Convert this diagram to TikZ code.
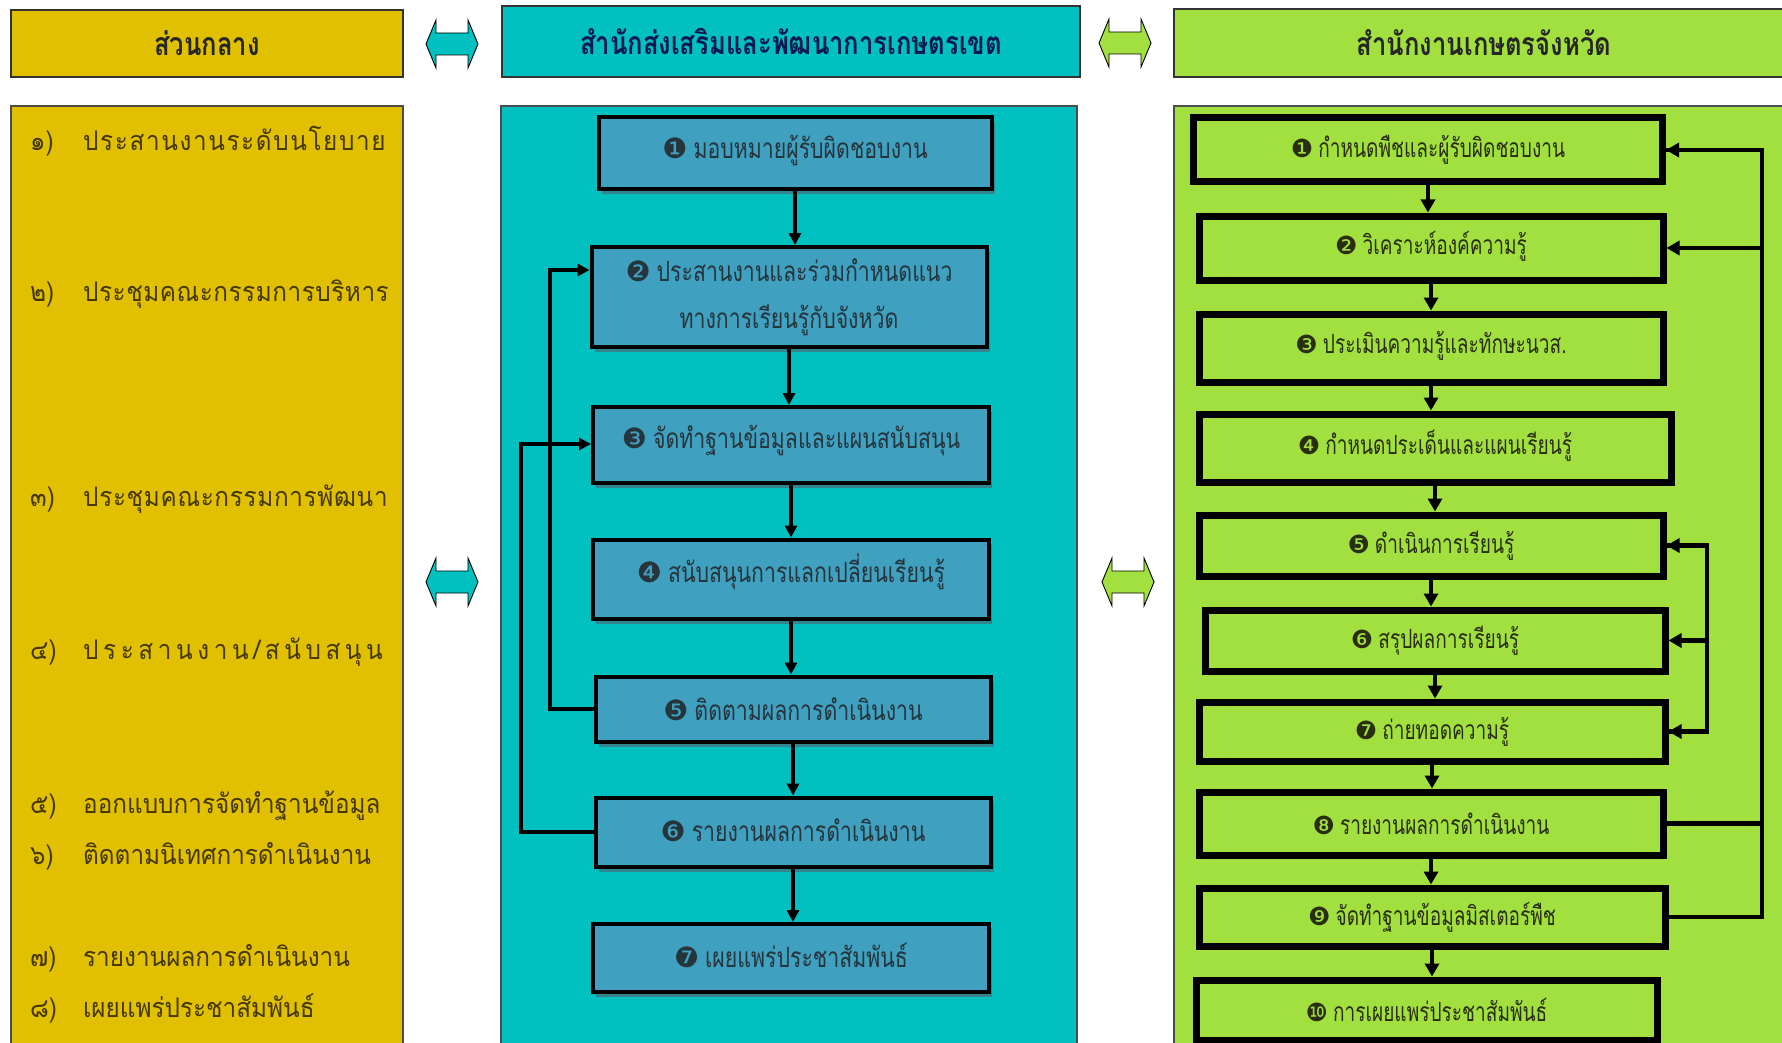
\documentclass[tikz,border=0pt]{standalone}
\usepackage{fontspec}
\setmainfont{Liberation Sans}
\newfontfamily\thaic[Script=Thai,FakeStretch=0.8]{Loma}
\newfontfamily\thaim[Script=Thai,FakeStretch=0.76]{Loma}
\newfontfamily\thair[Script=Thai,FakeStretch=0.72]{Loma}
\newfontfamily\thail[Script=Thai,FakeStretch=0.9]{Loma}
\newfontfamily\dingf{DejaVu Sans}
\usetikzlibrary{arrows.meta,shadows}
\definecolor{gold}{HTML}{E0C000}
\definecolor{cyanp}{HTML}{00C0C0}
\definecolor{boxblue}{HTML}{3FA0BF}
\definecolor{grn}{HTML}{A2E040}
\definecolor{shadowc}{HTML}{3A7F88}
\definecolor{txtgold}{HTML}{463800}
\definecolor{txtblue}{HTML}{26343C}
\definecolor{txtgrn}{HTML}{2A2E10}
\definecolor{navy}{HTML}{0A1A50}
\newcommand{\dg}[1]{{\dingf\fontsize{28}{28}\selectfont\char"#1}\hspace{6pt}}
\newcommand{\dgr}[1]{{\dingf\fontsize{25}{25}\selectfont\char"#1}\hspace{5pt}}
\newcommand{\lsp}[1]{\addfontfeatures{LetterSpace=#1}}
\newcommand{\up}[2]{\raisebox{#1}[\height][\depth]{#2}}
\tikzset{
  hdr/.style={draw=black!80, line width=1.2pt, inner sep=0pt, font=\thaic\bfseries\fontsize{32}{34}\selectfont},
  panel/.style={draw=black!70, line width=1.2pt},
  mbox/.style={draw=black, line width=4pt, fill=boxblue, inner sep=0pt, text=txtblue, align=center,
     font=\thaim\fontsize{28}{47}\selectfont,
     drop shadow={shadow xshift=3pt, shadow yshift=-5pt, fill=shadowc, opacity=0.9}},
  gbox/.style={draw=black, line width=7pt, fill=grn, inner sep=0pt, text=txtgrn, font=\thair\fontsize{26.5}{28}\selectfont},
  ltxt/.style={anchor=west, inner sep=0pt, text=txtgold, font=\thail\fontsize{27}{30}\selectfont},
  flow/.style={-{Triangle[length=12pt,width=12pt]}, line width=3.2pt},
  gflow/.style={-{Triangle[length=13pt,width=14pt]}, line width=3.5pt},
  fb/.style={line width=4.5pt},
  dblarr/.pic={\draw[pic actions, line width=0.9pt, line join=miter]
     (-26,0) -- (-16,-24) -- (-16,-11) -- (16,-11) -- (16,-24) -- (26,0) -- (16,24) -- (16,11)
     -- (-16,11) -- (-16,24) -- cycle;}
}
\begin{document}
\begin{tikzpicture}[x=1pt,y=-1pt]
\useasboundingbox (0,0) rectangle (1782,1043);
\clip (0,0) rectangle (1782,1043);
\fill[white] (0,0) rectangle (1782,1043);
% headers
\node[hdr, fill=gold, minimum width=392, minimum height=67, text=black!85] (h1) at (207,43.5) {ส่วนกลาง};
\node[hdr, fill=cyanp, minimum width=578, minimum height=71, text=navy] (h2) at (791,41.5) {สำนักส่งเสริมและพัฒนาการเกษตรเขต};
\node[hdr, fill=grn, minimum width=620, minimum height=68, text=black!85] (h3) at (1484,43) {สำนักงานเกษตรจังหวัด};
\pic[fill=cyanp] at (452,44) {dblarr};
\pic[fill=grn] at (1125,43) {dblarr};
% panels
\path[panel, fill=gold] (11,106) rectangle (403,1060);
\path[panel, fill=cyanp] (501,106) rectangle (1077,1060);
\path[panel, fill=grn] (1174,106) rectangle (1800,1060);
\pic[fill=cyanp] at (452,582) {dblarr};
\pic[fill=grn] at (1128,582) {dblarr};
% left list
\node[ltxt] (l1) at (30,141) {\makebox[53pt][l]{๑)}\lsp{6}ประสานงานระดับนโยบาย};
\node[ltxt] (l2) at (30,294) {\makebox[53pt][l]{๒)}\lsp{2}ประชุมคณะกรรมการบริหาร};
\node[ltxt] (l3) at (30,499) {\makebox[53pt][l]{๓)}\lsp{2.5}ประชุมคณะกรรมการพัฒนา};
\node[ltxt] (l4) at (30,652) {\makebox[53pt][l]{๔)}\lsp{17}ประสานงาน/สนับสนุน};
\node[ltxt] (l5) at (30,806) {\makebox[53pt][l]{๕)}ออกแบบการจัดทำฐานข้อมูล};
\node[ltxt] (l6) at (30,856) {\makebox[53pt][l]{๖)}ติดตามนิเทศการดำเนินงาน};
\node[ltxt] (l7) at (30,958) {\makebox[53pt][l]{๗)}รายงานผลการดำเนินงาน};
\node[ltxt] (l8) at (30,1008) {\makebox[53pt][l]{๘)}เผยแพร่ประชาสัมพันธ์};
% middle boxes
\node[mbox, minimum width=393, minimum height=72] (m1) at (795,153) {\up{3pt}{\dg{2776}มอบหมายผู้รับผิดชอบงาน}};
\node[mbox, minimum width=395, minimum height=100] (m2) at (789,297) {\dg{2777}ประสานงานและร่วมกำหนดแนว\\ทางการเรียนรู้กับจังหวัด};
\node[mbox, minimum width=396, minimum height=76] (m3) at (791,445) {\up{5pt}{\dg{2778}จัดทำฐานข้อมูลและแผนสนับสนุน}};
\node[mbox, minimum width=396, minimum height=79] (m4) at (791,579) {\up{7pt}{\dg{2779}สนับสนุนการแลกเปลี่ยนเรียนรู้}};
\node[mbox, minimum width=395, minimum height=65] (m5) at (793,709) {\dg{277A}ติดตามผลการดำเนินงาน};
\node[mbox, minimum width=395, minimum height=69] (m6) at (793,832) {\up{2pt}{\dg{277B}รายงานผลการดำเนินงาน}};
\node[mbox, minimum width=396, minimum height=68] (m7) at (791,958) {\up{3pt}{\dg{277C}เผยแพร่ประชาสัมพันธ์}};
\foreach \a/\b in {m1/m2,m2/m3,m3/m4,m4/m5,m5/m6,m6/m7}
  \draw[flow] (\a.south) -- (\a.south |- \b.north);
\draw[flow] (m5.west) -| (550,270) -- (m2.west |- 550,270);
\draw[flow] (m6.west) -| (521,444) -- (m3.west |- 521,444);
% right boxes
\node[gbox, minimum width=469, minimum height=64] (g1) at (1428,150) {\dgr{2776}กำหนดพืชและผู้รับผิดชอบงาน};
\node[gbox, minimum width=464, minimum height=64] (g2) at (1431,248) {\up{2pt}{\dgr{2777}วิเคราะห์องค์ความรู้}};
\node[gbox, minimum width=464, minimum height=68] (g3) at (1431,348) {\up{2pt}{\dgr{2778}ประเมินความรู้และทักษะนวส.}};
\node[gbox, minimum width=472, minimum height=68] (g4) at (1435,448) {\up{2pt}{\dgr{2779}กำหนดประเด็นและแผนเรียนรู้}};
\node[gbox, minimum width=464, minimum height=61] (g5) at (1431,545.5) {\dgr{277A}ดำเนินการเรียนรู้};
\node[gbox, minimum width=460, minimum height=61] (g6) at (1435,640.5) {\dgr{277B}สรุปผลการเรียนรู้};
\node[gbox, minimum width=466, minimum height=59] (g7) at (1432,731.5) {\dgr{277C}ถ่ายทอดความรู้};
\node[gbox, minimum width=464, minimum height=63] (g8) at (1431,823.5) {\dgr{277D}รายงานผลการดำเนินงาน};
\node[gbox, minimum width=466, minimum height=58] (g9) at (1432,917) {\dgr{277E}จัดทำฐานข้อมูลมิสเตอร์พืช};
\node[gbox, minimum width=461, minimum height=60] (g10) at (1426.5,1010) {\dgr{277F}การเผยแพร่ประชาสัมพันธ์};
\foreach \a/\b in {g1/g2,g2/g3,g3/g4,g4/g5,g5/g6,g6/g7,g7/g8,g8/g9,g9/g10}
  \draw[gflow] (\a.south) -- (\a.south |- \b.north);
\coordinate (rt) at (1762,150);
\coordinate (r2) at (1762,248);
\draw[fb, line join=miter] (g8.east) -| (rt) -- (g1.east);
\draw[fb] (g9.east) -| (1762,823.5);
\draw[gflow, line width=4.5pt] (rt) -- (g1.east);
\draw[gflow, line width=4.5pt] (r2) -- (g2.east);
\coordinate (i5) at (1707,545.5);
\coordinate (i7) at (1707,731.5);
\draw[fb, line join=miter] (g5.east) -- (i5) -- (i7) -- (g7.east);
\draw[gflow, line width=4.5pt] (i5) -- (g5.east);
\draw[gflow, line width=4.5pt] (1707,640.5) -- (g6.east);
\draw[gflow, line width=4.5pt] (i7) -- (g7.east);
\end{tikzpicture}
\end{document}
